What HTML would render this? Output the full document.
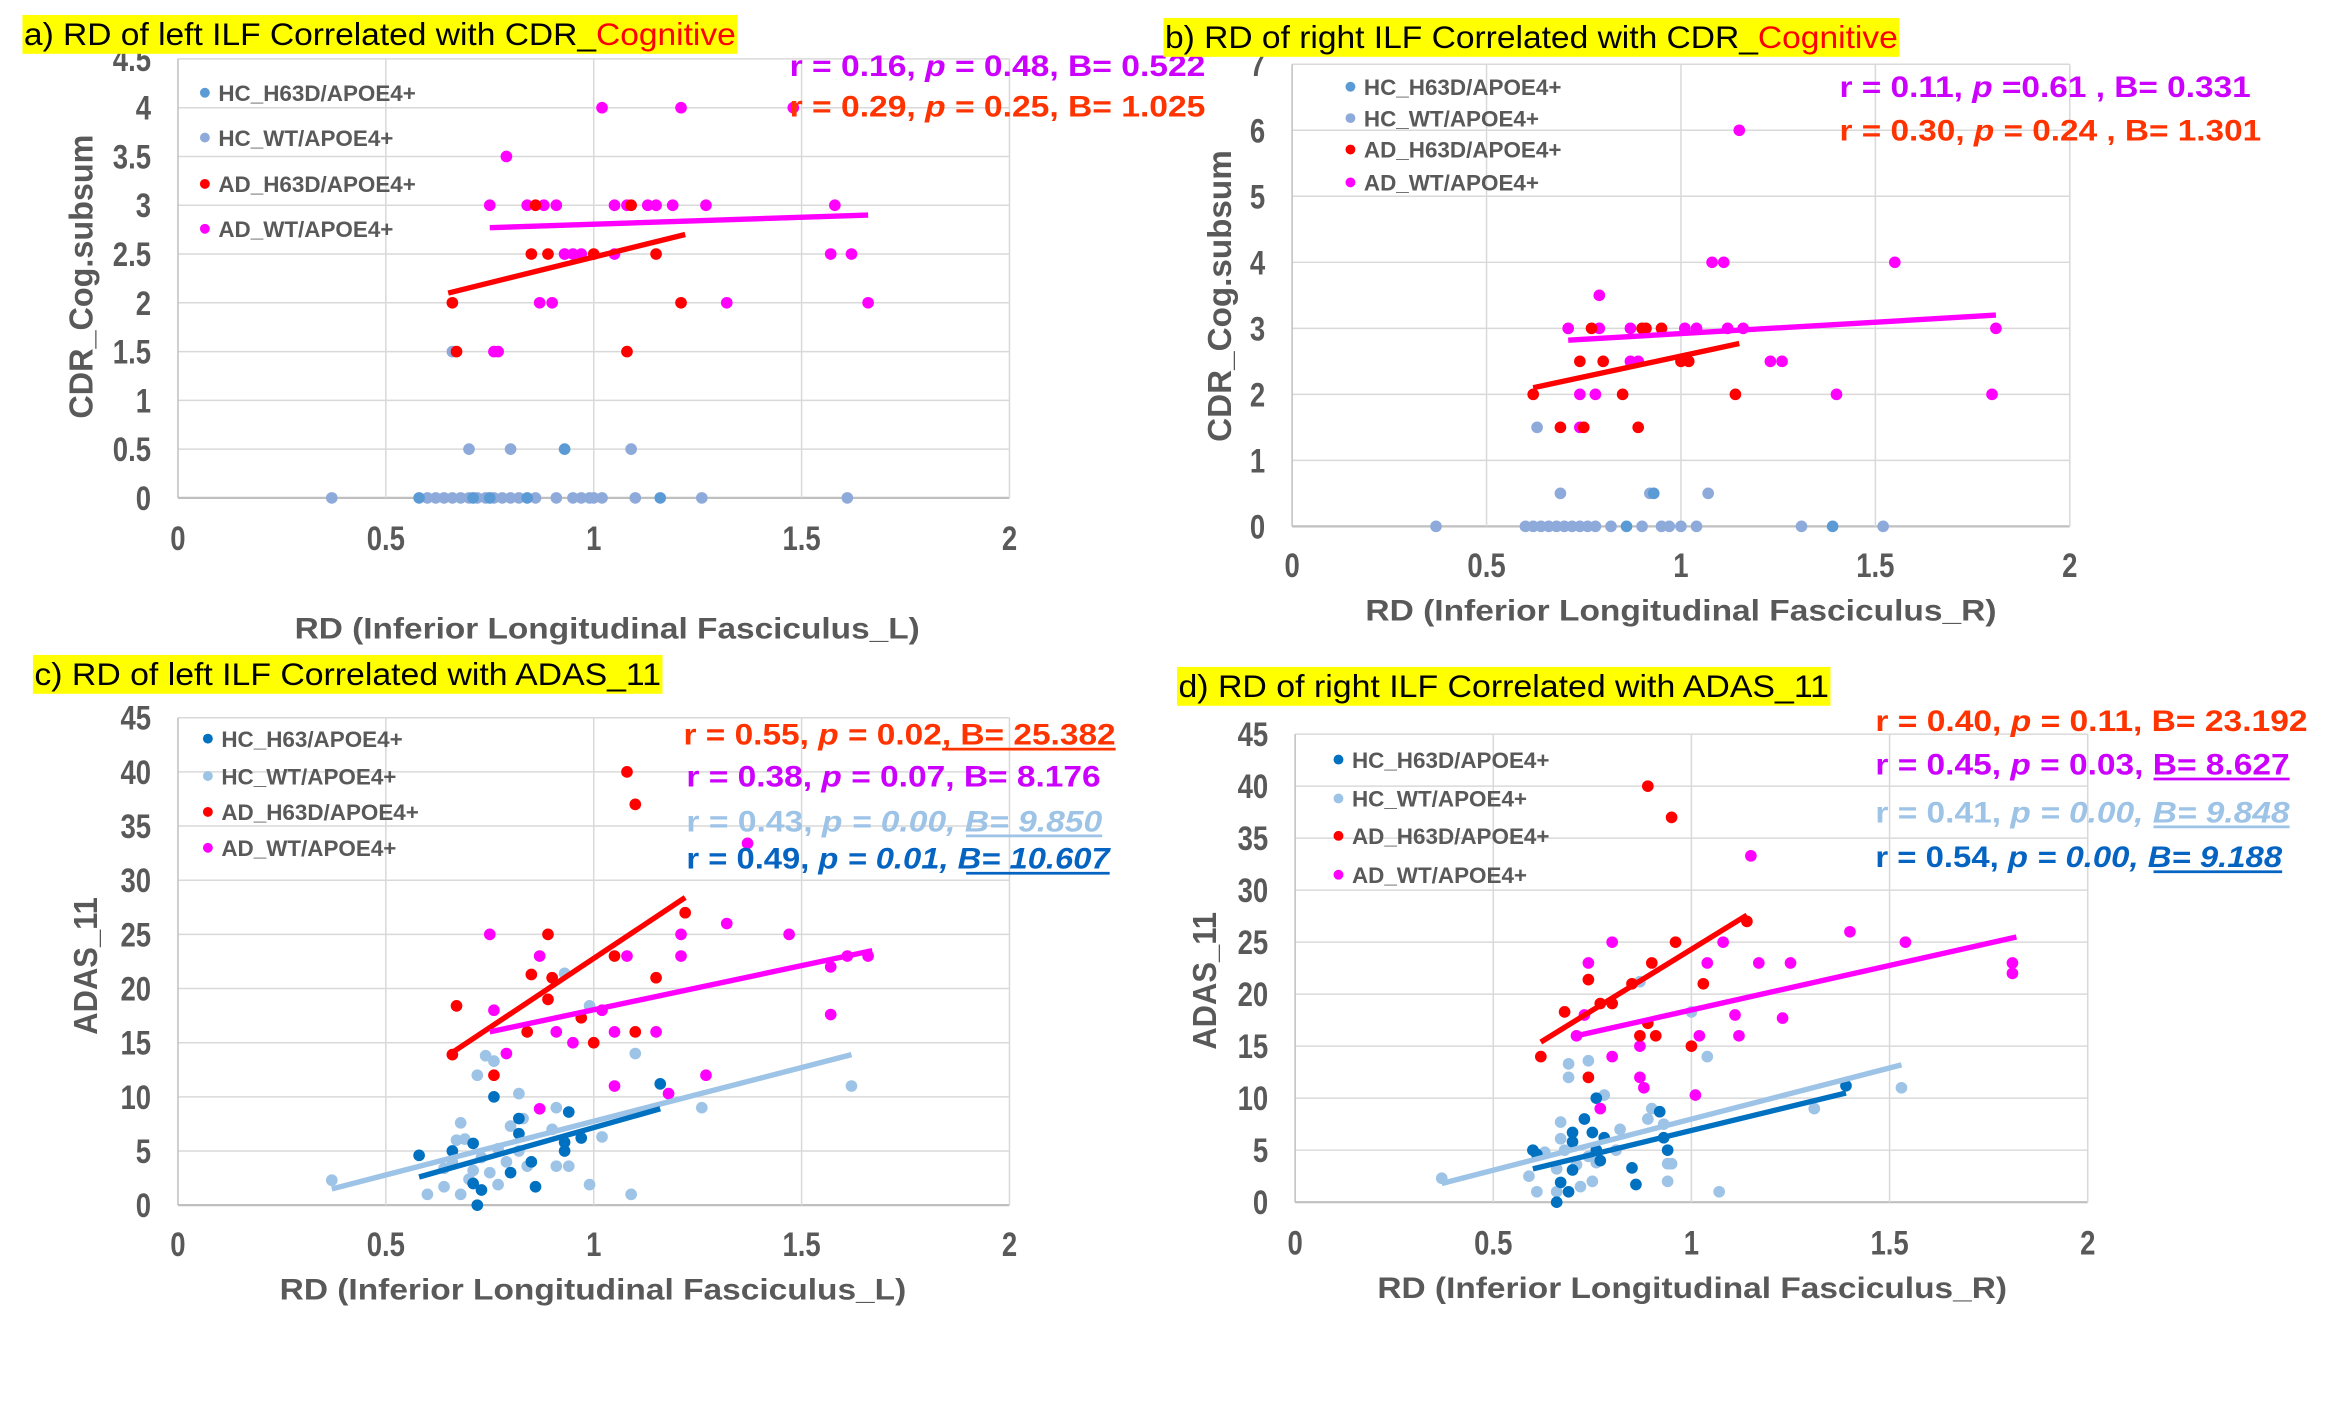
<!DOCTYPE html>
<html><head><meta charset="utf-8"><style>
html,body{margin:0;padding:0;background:#fff;}
svg{display:block;}
text{font-family:"Liberation Sans",sans-serif;}
</style></head><body>
<svg id="fig" xmlns="http://www.w3.org/2000/svg" width="2333" height="1419" viewBox="0 0 1560 949" preserveAspectRatio="none"></svg>
<script>
// ---- Panel a data (RD left vs CDR) ----
const aHcH63dX=[0.93,1.16,0.58,0.71,0.75,0.84];
const aHcH63dY=[0.5,0,0,0,0,0];
const aHcWtX=[0.37,0.6,0.62,0.64,0.66,0.68,0.7,0.72,0.74,0.76,0.78,0.8,0.82,0.86,0.91,0.95,0.97,0.99,1.0,1.02,1.1,1.26,1.61,0.7,0.8,1.09,0.66,0.93];
const aHcWtY=[0,0,0,0,0,0,0,0,0,0,0,0,0,0,0,0,0,0,0,0,0,0,0,0.5,0.5,0.5,1.5,2.5];
const aAdH63dX=[0.86,1.09,0.85,0.89,1.0,1.15,0.66,1.21,0.67,1.08];
const aAdH63dY=[3,3,2.5,2.5,2.5,2.5,2,2,1.5,1.5];
const aAdWtX=[1.02,1.21,1.48,0.79,0.75,0.84,0.88,0.91,1.05,1.08,1.13,1.15,1.19,1.27,1.58,0.93,0.95,0.97,1.05,1.57,1.62,0.87,0.9,1.32,1.66,0.76,0.77];
const aAdWtY=[4,4,4,3.5,3,3,3,3,3,3,3,3,3,3,3,2.5,2.5,2.5,2.5,2.5,2.5,2,2,2,2,1.5,1.5];
const aTrendRedX=[0.65,1.22], aTrendRedY=[2.1,2.7];
const aTrendMagX=[0.75,1.66], aTrendMagY=[2.77,2.9];
const aYTicks=[0,0.5,1,1.5,2,2.5,3,3.5,4,4.5];
// ---- Panel b data (RD right vs CDR) ----
const bHcH63dX=[1.39,0.86,0.93];
const bHcH63dY=[0,0,0.5];
const bHcWtX=[0.37,0.6,0.62,0.64,0.66,0.68,0.7,0.72,0.74,0.76,0.78,0.82,0.9,0.95,0.97,1.0,1.04,1.31,1.52,0.69,0.92,1.07,0.63];
const bHcWtY=[0,0,0,0,0,0,0,0,0,0,0,0,0,0,0,0,0,0,0,0.5,0.5,0.5,1.5];
const bAdH63dX=[0.77,0.9,0.91,0.95,0.74,0.8,1.0,1.02,0.62,0.85,1.14,0.69,0.75,0.89];
const bAdH63dY=[3,3,3,3,2.5,2.5,2.5,2.5,2,2,2,1.5,1.5,1.5];
const bAdWtX=[1.15,1.08,1.11,1.55,0.79,0.71,0.79,0.87,1.01,1.04,1.12,1.16,1.81,0.87,0.89,1.23,1.26,0.74,0.78,1.4,1.8,0.74];
const bAdWtY=[6,4,4,4,3.5,3,3,3,3,3,3,3,3,2.5,2.5,2.5,2.5,2,2,2,2,1.5];
const bTrendRedX=[0.62,1.15], bTrendRedY=[2.1,2.77];
const bTrendMagX=[0.71,1.81], bTrendMagY=[2.82,3.2];
const bYTicks=[0,1,2,3,4,5,6,7];
// ---- Panel c data (RD left vs ADAS) ----
const cHcH63X=[0.58,0.66,0.72,0.71,0.86,0.76,0.82,0.82,0.94,0.93,0.93,0.97,1.16,0.85,0.8,0.71,0.73];
const cHcH63Y=[4.6,5,0,2,1.7,10,6.6,8,8.6,5,5.8,6.2,11.2,4,3,5.7,1.4];
const cHcWtX=[0.37,0.6,0.64,0.68,0.67,0.69,0.72,0.74,0.76,0.82,0.83,0.8,0.91,0.9,0.91,0.94,0.99,1.02,1.09,1.1,0.99,0.93,1.26,1.62,0.68,0.7,0.77,0.84,0.75,0.66,0.73,0.79,0.64,0.77,0.82,0.71];
const cHcWtY=[2.3,1,1.7,7.6,6,6.1,12,13.8,13.3,10.3,8,7.3,9,7,3.6,3.6,1.9,6.3,1,14,18.4,21.4,9,11,1,2.4,1.9,3.6,3,4,4.4,4,3.4,5.2,5,3.2];
const cAdH63dX=[0.67,0.66,0.76,0.85,0.89,0.9,0.89,0.97,1.0,0.84,1.05,1.1,1.15,1.22,1.08,1.1];
const cAdH63dY=[18.4,13.9,12,21.3,25,21,19,17.3,15,16,23,16,21,27,40,37];
const cAdWtX=[0.75,0.87,0.76,0.79,0.91,0.95,1.02,1.05,1.08,1.15,1.21,1.21,1.32,1.47,1.57,1.61,1.66,1.57,1.27,1.05,1.18,0.87,1.37];
const cAdWtY=[25,23,18,14,16,15,18,16,23,16,25,23,26,25,22,23,23,17.6,12,11,10.3,8.9,33.4];
const cTrendRedX=[0.66,1.22], cTrendRedY=[14.1,28.4];
const cTrendMagX=[0.75,1.67], cTrendMagY=[16,23.5];
const cTrendLbX=[0.37,1.62], cTrendLbY=[1.5,13.9];
const cTrendDbX=[0.58,1.16], cTrendDbY=[2.6,8.9];
const cdYTicks=[0,5,10,15,20,25,30,35,40,45];
// ---- Panel d data (RD right vs ADAS) ----
const dHcH63X=[0.6,0.61,0.66,0.69,0.67,0.76,0.73,0.7,0.75,0.7,0.78,0.77,0.7,0.85,0.86,0.92,0.93,0.94,1.39,0.76];
const dHcH63Y=[5,4.6,0,1,1.9,10,8,6.7,6.7,5.8,6.2,4,3.1,3.3,1.7,8.7,6.2,5,11.2,5];
const dHcWtX=[0.37,0.61,0.59,0.67,0.67,0.69,0.69,0.74,0.78,0.82,0.81,0.9,0.89,0.93,0.94,0.95,0.94,1.07,1.0,1.04,0.87,1.31,1.53,0.72,0.75,0.71,0.74,0.66,0.68,0.76,0.66,0.63];
const dHcWtY=[2.3,1,2.5,7.7,6.1,12,13.3,13.6,10.3,7,5,9,8,7.5,3.7,3.7,2,1,18.3,14,21.2,9,11,1.5,2,3.6,4.4,3.2,5,3.8,1,4.8];
const dAdH63dX=[0.62,0.68,0.74,0.74,0.77,0.8,0.85,0.87,0.89,0.91,0.9,0.96,1.03,1.0,1.14,0.89,0.95];
const dAdH63dY=[14,18.3,21.4,12,19.1,19.1,21,16,17.2,16,23,25,21,15,27,40,37];
const dAdWtX=[0.74,0.8,0.73,0.71,0.8,0.87,0.88,0.77,0.87,1.01,1.02,1.04,1.08,1.11,1.12,1.17,1.23,1.25,1.4,1.54,1.81,1.81,1.15];
const dAdWtY=[23,25,18,16,14,12,11,9,15,10.3,16,23,25,18,16,23,17.7,23,26,25,23,22,33.3];
const dTrendRedX=[0.62,1.14], dTrendRedY=[15.4,27.6];
const dTrendMagX=[0.71,1.82], dTrendMagY=[16,25.5];
const dTrendLbX=[0.37,1.53], dTrendLbY=[1.8,13.2];
const dTrendDbX=[0.6,1.39], dTrendDbY=[3.2,10.5];
const xTicks=[0,0.5,1,1.5,2];

const NS="http://www.w3.org/2000/svg";
const svg=document.getElementById('fig');
function mk(tag,attrs,parent){const e=document.createElementNS(NS,tag);for(const k in attrs)e.setAttribute(k,attrs[k]);(parent||svg).appendChild(e);return e;}
function txt(s,attrs,parent){const e=mk('text',attrs,parent);e.textContent=s;return e;}

const C={red:'#ff0000',mag:'#ff00ff',hcA:'#5b9bd5',hcB:'#8eaadb',lb:'#9dc3e6',db:'#0070c0'};

function panel(p){
  const g=mk('g',{});
  
  
  const sx=v=>p.x0+(v/2)*(p.x1-p.x0);
  const sy=v=>p.y0-(v/p.ymax)*(p.y0-p.y1);
  p.yTicks.forEach(t=>{
    const l=mk('line',{x1:p.x0,x2:p.x1,y1:sy(t),y2:sy(t),stroke:t===0?'#bfbfbf':'#d9d9d9','stroke-width':t===0?1.5:1},g);
    
    
    const lb=txt(String(t),{x:p.x0-18,y:sy(t)+8,'text-anchor':'end','font-size':23,'font-weight':'bold',fill:'#595959',transform:`translate(${p.x0-18},0) scale(0.8,1) translate(${-(p.x0-18)},0)`},g);
    
    
  });
  xTicks.forEach(t=>{
    const l=mk('line',{x1:sx(t),x2:sx(t),y1:p.y0,y2:p.y1,stroke:t===0?'#bfbfbf':'#d9d9d9','stroke-width':1},g);
    
    
    const lb=txt(String(t),{x:sx(t),y:p.xLabY,'text-anchor':'middle','font-size':23,'font-weight':'bold',fill:'#595959',transform:`translate(${sx(t)},0) scale(0.8,1) translate(${-sx(t)},0)`},g);
    
    
  });
  p.series.forEach(s=>{
    s.x.forEach((xv,i)=>{
      const c=mk('circle',{cx:sx(xv),cy:sy(s.y[i]),r:3.9,fill:s.color},g);
      
      
    });
  });
  p.trends.forEach(t=>{
    const l=mk('line',{x1:sx(t.x[0]),y1:sy(t.y[0]),x2:sx(t.x[1]),y2:sy(t.y[1]),stroke:t.color,'stroke-width':3.6},g);
    
    
  });
  p.legend.forEach((L,i)=>{
    const yy=p.legY[i];
    const d=mk('circle',{cx:p.legX,cy:yy,r:3.3,fill:L.color},g);
    
    
    const t=txt(L.label,{x:p.legX+9,y:yy+5.5,'font-size':15,'font-weight':'bold',fill:'#595959'},g);
    
    
  });
  const r=mk('rect',{x:p.tb[0],y:p.tb[1],width:p.tb[2]-p.tb[0],height:p.tb[3]-p.tb[1],fill:'#ffff00'},g);
  
  
  const tt=mk('text',{x:p.tb[0]+1,y:p.tb[3]-6,'font-size':21,fill:'#000',textLength:p.tb[2]-p.tb[0]-2,lengthAdjust:'spacingAndGlyphs'},g);
  
  
  const s1=mk('tspan',{},tt);s1.textContent=p.title[0];
  if(p.title[1]){const s2=mk('tspan',{fill:'#ff0000'},tt);s2.textContent=p.title[1];}
  const xt=txt(p.xTitle,{x:p.xt[0],y:p.xt[2],'font-size':20,'font-weight':'bold',fill:'#595959',textLength:p.xt[1]-p.xt[0],lengthAdjust:'spacingAndGlyphs'},g);
  
  
  const yt=txt(p.yTitle,{x:0,y:0,'font-size':22,'font-weight':'bold',fill:'#595959','text-anchor':'middle',textLength:p.yt[2],lengthAdjust:'spacingAndGlyphs',transform:`translate(${p.yt[0]},${p.yt[1]}) rotate(-90)`},g);
  
  
  p.stats.forEach(st=>{
    const e=mk('text',{x:st.x0,y:st.y,'font-size':20,'font-weight':'bold',fill:st.color,textLength:st.x1-st.x0,lengthAdjust:'spacingAndGlyphs'},g);
    
    
    st.parts.forEach(pt=>{const s=mk('tspan',pt[1]?{'font-style':'italic'}:{},e);s.textContent=pt[0];});
    if(st.u){const u=mk('line',{x1:st.u[0],x2:st.u[1],y1:st.y+3,y2:st.y+3,stroke:st.color,'stroke-width':1.8},g);
      
      }
  });
}
function st(r,p,b,pItalic){return [['r = '+r+', ',false],['p',true],[' = '+p+', ',pItalic],['B= '+b,pItalic]];}

panel({name:'panel-a',x0:119,x1:675,y0:333,y1:39.4,ymax:4.5,yTicks:aYTicks,xLabY:368,
  series:[{key:'hc-wt',x:aHcWtX,y:aHcWtY,color:C.hcB},{key:'hc-h63d',x:aHcH63dX,y:aHcH63dY,color:C.hcA},{key:'ad-wt',x:aAdWtX,y:aAdWtY,color:C.mag},{key:'ad-h63d',x:aAdH63dX,y:aAdH63dY,color:C.red}],
  trends:[{key:'ad-h63d',x:aTrendRedX,y:aTrendRedY,color:C.red},{key:'ad-wt',x:aTrendMagX,y:aTrendMagY,color:C.mag}],
  legend:[{label:'HC_H63D/APOE4+',color:C.hcA},{label:'HC_WT/APOE4+',color:C.hcB},{label:'AD_H63D/APOE4+',color:C.red},{label:'AD_WT/APOE4+',color:C.mag}],
  legX:137,legY:[62,92,123,153],tb:[15,10,493,36],title:['a) RD of left ILF Correlated with CDR_','Cognitive'],
  xTitle:'RD (Inferior Longitudinal Fasciculus_L)',xt:[197,615,427],yTitle:'CDR_Cog.subsum',yt:[62,185,190],
  stats:[{x0:528,x1:806,y:51,color:'#cc00ff',parts:st('0.16','0.48','0.522')},{x0:528,x1:806,y:78,color:'#ff3300',parts:st('0.29','0.25','1.025')}]});

panel({name:'panel-b',x0:864,x1:1384,y0:352,y1:43,ymax:7,yTicks:bYTicks,xLabY:386,
  series:[{key:'hc-wt',x:bHcWtX,y:bHcWtY,color:C.hcB},{key:'hc-h63d',x:bHcH63dX,y:bHcH63dY,color:C.hcA},{key:'ad-wt',x:bAdWtX,y:bAdWtY,color:C.mag},{key:'ad-h63d',x:bAdH63dX,y:bAdH63dY,color:C.red}],
  trends:[{key:'ad-h63d',x:bTrendRedX,y:bTrendRedY,color:C.red},{key:'ad-wt',x:bTrendMagX,y:bTrendMagY,color:C.mag}],
  legend:[{label:'HC_H63D/APOE4+',color:C.hcA},{label:'HC_WT/APOE4+',color:C.hcB},{label:'AD_H63D/APOE4+',color:C.red},{label:'AD_WT/APOE4+',color:C.mag}],
  legX:903,legY:[58,79,100,122],tb:[778,12,1270,38],title:['b) RD of right ILF Correlated with CDR_','Cognitive'],
  xTitle:'RD (Inferior Longitudinal Fasciculus_R)',xt:[913,1335,415],yTitle:'CDR_Cog.subsum',yt:[823,198,195],
  stats:[{x0:1230,x1:1505,y:65,color:'#cc00ff',parts:[['r = 0.11, ',false],['p',true],[' =0.61 , B= 0.331',false]]},{x0:1230,x1:1512,y:94,color:'#ff3300',parts:[['r = 0.30, ',false],['p',true],[' = 0.24 , B= 1.301',false]]}]});

panel({name:'panel-c',x0:119,x1:675,y0:806,y1:480,ymax:45,yTicks:cdYTicks,xLabY:840,
  series:[{key:'hc-wt',x:cHcWtX,y:cHcWtY,color:C.lb},{key:'hc-h63',x:cHcH63X,y:cHcH63Y,color:C.db},{key:'ad-wt',x:cAdWtX,y:cAdWtY,color:C.mag},{key:'ad-h63d',x:cAdH63dX,y:cAdH63dY,color:C.red}],
  trends:[{key:'hc-wt',x:cTrendLbX,y:cTrendLbY,color:C.lb},{key:'hc-h63',x:cTrendDbX,y:cTrendDbY,color:C.db},{key:'ad-h63d',x:cTrendRedX,y:cTrendRedY,color:C.red},{key:'ad-wt',x:cTrendMagX,y:cTrendMagY,color:C.mag}],
  legend:[{label:'HC_H63/APOE4+',color:C.db},{label:'HC_WT/APOE4+',color:C.lb},{label:'AD_H63D/APOE4+',color:C.red},{label:'AD_WT/APOE4+',color:C.mag}],
  legX:139,legY:[494,519,543,567],tb:[22,438,443,464],title:['c) RD of left ILF Correlated with ADAS_11',''],
  xTitle:'RD (Inferior Longitudinal Fasciculus_L)',xt:[187,606,869],yTitle:'ADAS_11',yt:[65,646,92],
  stats:[{x0:457,x1:746,y:498,color:'#ff3300',parts:st('0.55','0.02','25.382'),u:[630,746]},
    {x0:459,x1:736,y:526,color:'#cc00ff',parts:st('0.38','0.07','8.176')},
    {x0:459,x1:737,y:556,color:'#9dc3e6',parts:st('0.43','0.00','9.850',true),u:[646,737]},
    {x0:459,x1:742,y:581,color:'#0563c1',parts:st('0.49','0.01','10.607',true),u:[646,742]}]});

panel({name:'panel-d',x0:866,x1:1396,y0:804,y1:491,ymax:45,yTicks:cdYTicks,xLabY:839,
  series:[{key:'hc-wt',x:dHcWtX,y:dHcWtY,color:C.lb},{key:'hc-h63d',x:dHcH63X,y:dHcH63Y,color:C.db},{key:'ad-wt',x:dAdWtX,y:dAdWtY,color:C.mag},{key:'ad-h63d',x:dAdH63dX,y:dAdH63dY,color:C.red}],
  trends:[{key:'hc-wt',x:dTrendLbX,y:dTrendLbY,color:C.lb},{key:'hc-h63d',x:dTrendDbX,y:dTrendDbY,color:C.db},{key:'ad-h63d',x:dTrendRedX,y:dTrendRedY,color:C.red},{key:'ad-wt',x:dTrendMagX,y:dTrendMagY,color:C.mag}],
  legend:[{label:'HC_H63D/APOE4+',color:C.db},{label:'HC_WT/APOE4+',color:C.lb},{label:'AD_H63D/APOE4+',color:C.red},{label:'AD_WT/APOE4+',color:C.mag}],
  legX:895,legY:[508,534,559,585],tb:[787,446,1224,472],title:['d) RD of right ILF Correlated with ADAS_11',''],
  xTitle:'RD (Inferior Longitudinal Fasciculus_R)',xt:[921,1342,868],yTitle:'ADAS_11',yt:[813,656,92],
  stats:[{x0:1254,x1:1543,y:489,color:'#ff3300',parts:st('0.40','0.11','23.192')},
    {x0:1254,x1:1531,y:518,color:'#cc00ff',parts:st('0.45','0.03','8.627'),u:[1440,1531]},
    {x0:1254,x1:1531,y:550,color:'#9dc3e6',parts:st('0.41','0.00','9.848',true),u:[1440,1531]},
    {x0:1254,x1:1526,y:580,color:'#0563c1',parts:st('0.54','0.00','9.188',true),u:[1440,1526]}]});
</script>
</body></html>
